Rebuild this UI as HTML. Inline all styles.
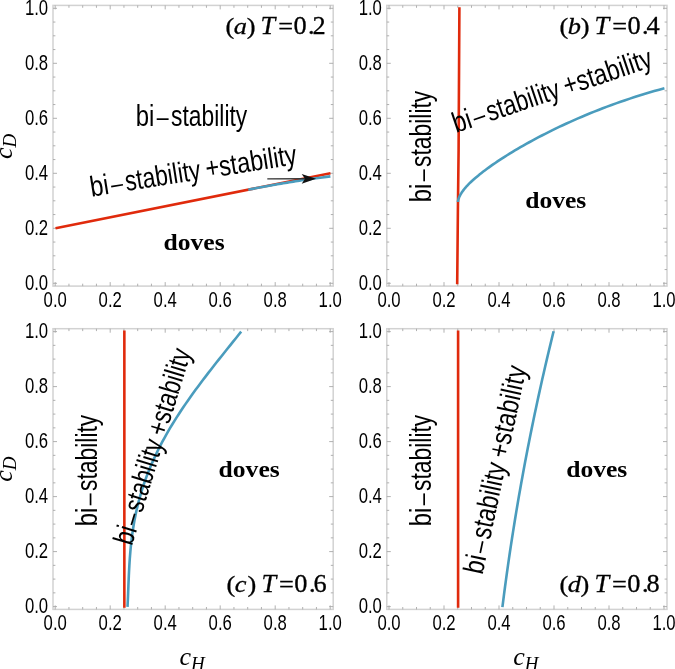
<!DOCTYPE html>
<html><head><meta charset="utf-8"><style>
html,body{margin:0;padding:0;background:#fff;width:675px;height:669px;overflow:hidden}
svg{display:block;will-change:transform}
</style></head><body>
<svg width="675" height="669" viewBox="0 0 675 669">
<rect width="675" height="669" fill="#fff"/>
<rect x="53.00" y="5.40" width="280.20" height="280.70" fill="none" stroke="#d2d2d2" stroke-width="1.5"/>
<path d="M55.20 286.10v-4.0M55.20 5.40v4.0M53.00 283.30h4.0M333.20 283.30h-4.0M68.95 286.10v-2.4M68.95 5.40v2.4M53.00 269.55h2.4M333.20 269.55h-2.4M82.70 286.10v-2.4M82.70 5.40v2.4M53.00 255.80h2.4M333.20 255.80h-2.4M96.45 286.10v-2.4M96.45 5.40v2.4M53.00 242.05h2.4M333.20 242.05h-2.4M110.20 286.10v-4.0M110.20 5.40v4.0M53.00 228.30h4.0M333.20 228.30h-4.0M123.95 286.10v-2.4M123.95 5.40v2.4M53.00 214.55h2.4M333.20 214.55h-2.4M137.70 286.10v-2.4M137.70 5.40v2.4M53.00 200.80h2.4M333.20 200.80h-2.4M151.45 286.10v-2.4M151.45 5.40v2.4M53.00 187.05h2.4M333.20 187.05h-2.4M165.20 286.10v-4.0M165.20 5.40v4.0M53.00 173.30h4.0M333.20 173.30h-4.0M178.95 286.10v-2.4M178.95 5.40v2.4M53.00 159.55h2.4M333.20 159.55h-2.4M192.70 286.10v-2.4M192.70 5.40v2.4M53.00 145.80h2.4M333.20 145.80h-2.4M206.45 286.10v-2.4M206.45 5.40v2.4M53.00 132.05h2.4M333.20 132.05h-2.4M220.20 286.10v-4.0M220.20 5.40v4.0M53.00 118.30h4.0M333.20 118.30h-4.0M233.95 286.10v-2.4M233.95 5.40v2.4M53.00 104.55h2.4M333.20 104.55h-2.4M247.70 286.10v-2.4M247.70 5.40v2.4M53.00 90.80h2.4M333.20 90.80h-2.4M261.45 286.10v-2.4M261.45 5.40v2.4M53.00 77.05h2.4M333.20 77.05h-2.4M275.20 286.10v-4.0M275.20 5.40v4.0M53.00 63.30h4.0M333.20 63.30h-4.0M288.95 286.10v-2.4M288.95 5.40v2.4M53.00 49.55h2.4M333.20 49.55h-2.4M302.70 286.10v-2.4M302.70 5.40v2.4M53.00 35.80h2.4M333.20 35.80h-2.4M316.45 286.10v-2.4M316.45 5.40v2.4M53.00 22.05h2.4M333.20 22.05h-2.4M330.20 286.10v-4.0M330.20 5.40v4.0M53.00 8.30h4.0M333.20 8.30h-4.0" stroke="#a8a8a8" stroke-width="0.9" fill="none"/>
<text transform="translate(48.10,289.70) scale(0.777,1)" text-anchor="end" style="font-family:'Liberation Sans',sans-serif;font-size:21.5px">0.0</text>
<text transform="translate(55.20,306.50) scale(0.777,1)" text-anchor="middle" style="font-family:'Liberation Sans',sans-serif;font-size:21.5px">0.0</text>
<text transform="translate(48.10,234.70) scale(0.777,1)" text-anchor="end" style="font-family:'Liberation Sans',sans-serif;font-size:21.5px">0.2</text>
<text transform="translate(110.20,306.50) scale(0.777,1)" text-anchor="middle" style="font-family:'Liberation Sans',sans-serif;font-size:21.5px">0.2</text>
<text transform="translate(48.10,179.70) scale(0.777,1)" text-anchor="end" style="font-family:'Liberation Sans',sans-serif;font-size:21.5px">0.4</text>
<text transform="translate(165.20,306.50) scale(0.777,1)" text-anchor="middle" style="font-family:'Liberation Sans',sans-serif;font-size:21.5px">0.4</text>
<text transform="translate(48.10,124.70) scale(0.777,1)" text-anchor="end" style="font-family:'Liberation Sans',sans-serif;font-size:21.5px">0.6</text>
<text transform="translate(220.20,306.50) scale(0.777,1)" text-anchor="middle" style="font-family:'Liberation Sans',sans-serif;font-size:21.5px">0.6</text>
<text transform="translate(48.10,69.70) scale(0.777,1)" text-anchor="end" style="font-family:'Liberation Sans',sans-serif;font-size:21.5px">0.8</text>
<text transform="translate(275.20,306.50) scale(0.777,1)" text-anchor="middle" style="font-family:'Liberation Sans',sans-serif;font-size:21.5px">0.8</text>
<text transform="translate(48.10,14.70) scale(0.777,1)" text-anchor="end" style="font-family:'Liberation Sans',sans-serif;font-size:21.5px">1.0</text>
<text transform="translate(330.20,306.50) scale(0.777,1)" text-anchor="middle" style="font-family:'Liberation Sans',sans-serif;font-size:21.5px">1.0</text>
<rect x="386.80" y="5.40" width="280.20" height="280.70" fill="none" stroke="#d2d2d2" stroke-width="1.5"/>
<path d="M389.00 286.10v-4.0M389.00 5.40v4.0M386.80 283.30h4.0M667.00 283.30h-4.0M402.75 286.10v-2.4M402.75 5.40v2.4M386.80 269.55h2.4M667.00 269.55h-2.4M416.50 286.10v-2.4M416.50 5.40v2.4M386.80 255.80h2.4M667.00 255.80h-2.4M430.25 286.10v-2.4M430.25 5.40v2.4M386.80 242.05h2.4M667.00 242.05h-2.4M444.00 286.10v-4.0M444.00 5.40v4.0M386.80 228.30h4.0M667.00 228.30h-4.0M457.75 286.10v-2.4M457.75 5.40v2.4M386.80 214.55h2.4M667.00 214.55h-2.4M471.50 286.10v-2.4M471.50 5.40v2.4M386.80 200.80h2.4M667.00 200.80h-2.4M485.25 286.10v-2.4M485.25 5.40v2.4M386.80 187.05h2.4M667.00 187.05h-2.4M499.00 286.10v-4.0M499.00 5.40v4.0M386.80 173.30h4.0M667.00 173.30h-4.0M512.75 286.10v-2.4M512.75 5.40v2.4M386.80 159.55h2.4M667.00 159.55h-2.4M526.50 286.10v-2.4M526.50 5.40v2.4M386.80 145.80h2.4M667.00 145.80h-2.4M540.25 286.10v-2.4M540.25 5.40v2.4M386.80 132.05h2.4M667.00 132.05h-2.4M554.00 286.10v-4.0M554.00 5.40v4.0M386.80 118.30h4.0M667.00 118.30h-4.0M567.75 286.10v-2.4M567.75 5.40v2.4M386.80 104.55h2.4M667.00 104.55h-2.4M581.50 286.10v-2.4M581.50 5.40v2.4M386.80 90.80h2.4M667.00 90.80h-2.4M595.25 286.10v-2.4M595.25 5.40v2.4M386.80 77.05h2.4M667.00 77.05h-2.4M609.00 286.10v-4.0M609.00 5.40v4.0M386.80 63.30h4.0M667.00 63.30h-4.0M622.75 286.10v-2.4M622.75 5.40v2.4M386.80 49.55h2.4M667.00 49.55h-2.4M636.50 286.10v-2.4M636.50 5.40v2.4M386.80 35.80h2.4M667.00 35.80h-2.4M650.25 286.10v-2.4M650.25 5.40v2.4M386.80 22.05h2.4M667.00 22.05h-2.4M664.00 286.10v-4.0M664.00 5.40v4.0M386.80 8.30h4.0M667.00 8.30h-4.0" stroke="#a8a8a8" stroke-width="0.9" fill="none"/>
<text transform="translate(381.90,289.70) scale(0.777,1)" text-anchor="end" style="font-family:'Liberation Sans',sans-serif;font-size:21.5px">0.0</text>
<text transform="translate(389.00,306.50) scale(0.777,1)" text-anchor="middle" style="font-family:'Liberation Sans',sans-serif;font-size:21.5px">0.0</text>
<text transform="translate(381.90,234.70) scale(0.777,1)" text-anchor="end" style="font-family:'Liberation Sans',sans-serif;font-size:21.5px">0.2</text>
<text transform="translate(444.00,306.50) scale(0.777,1)" text-anchor="middle" style="font-family:'Liberation Sans',sans-serif;font-size:21.5px">0.2</text>
<text transform="translate(381.90,179.70) scale(0.777,1)" text-anchor="end" style="font-family:'Liberation Sans',sans-serif;font-size:21.5px">0.4</text>
<text transform="translate(499.00,306.50) scale(0.777,1)" text-anchor="middle" style="font-family:'Liberation Sans',sans-serif;font-size:21.5px">0.4</text>
<text transform="translate(381.90,124.70) scale(0.777,1)" text-anchor="end" style="font-family:'Liberation Sans',sans-serif;font-size:21.5px">0.6</text>
<text transform="translate(554.00,306.50) scale(0.777,1)" text-anchor="middle" style="font-family:'Liberation Sans',sans-serif;font-size:21.5px">0.6</text>
<text transform="translate(381.90,69.70) scale(0.777,1)" text-anchor="end" style="font-family:'Liberation Sans',sans-serif;font-size:21.5px">0.8</text>
<text transform="translate(609.00,306.50) scale(0.777,1)" text-anchor="middle" style="font-family:'Liberation Sans',sans-serif;font-size:21.5px">0.8</text>
<text transform="translate(381.90,14.70) scale(0.777,1)" text-anchor="end" style="font-family:'Liberation Sans',sans-serif;font-size:21.5px">1.0</text>
<text transform="translate(664.00,306.50) scale(0.777,1)" text-anchor="middle" style="font-family:'Liberation Sans',sans-serif;font-size:21.5px">1.0</text>
<rect x="53.00" y="328.70" width="280.20" height="280.70" fill="none" stroke="#d2d2d2" stroke-width="1.5"/>
<path d="M55.20 609.40v-4.0M55.20 328.70v4.0M53.00 606.60h4.0M333.20 606.60h-4.0M68.95 609.40v-2.4M68.95 328.70v2.4M53.00 592.85h2.4M333.20 592.85h-2.4M82.70 609.40v-2.4M82.70 328.70v2.4M53.00 579.10h2.4M333.20 579.10h-2.4M96.45 609.40v-2.4M96.45 328.70v2.4M53.00 565.35h2.4M333.20 565.35h-2.4M110.20 609.40v-4.0M110.20 328.70v4.0M53.00 551.60h4.0M333.20 551.60h-4.0M123.95 609.40v-2.4M123.95 328.70v2.4M53.00 537.85h2.4M333.20 537.85h-2.4M137.70 609.40v-2.4M137.70 328.70v2.4M53.00 524.10h2.4M333.20 524.10h-2.4M151.45 609.40v-2.4M151.45 328.70v2.4M53.00 510.35h2.4M333.20 510.35h-2.4M165.20 609.40v-4.0M165.20 328.70v4.0M53.00 496.60h4.0M333.20 496.60h-4.0M178.95 609.40v-2.4M178.95 328.70v2.4M53.00 482.85h2.4M333.20 482.85h-2.4M192.70 609.40v-2.4M192.70 328.70v2.4M53.00 469.10h2.4M333.20 469.10h-2.4M206.45 609.40v-2.4M206.45 328.70v2.4M53.00 455.35h2.4M333.20 455.35h-2.4M220.20 609.40v-4.0M220.20 328.70v4.0M53.00 441.60h4.0M333.20 441.60h-4.0M233.95 609.40v-2.4M233.95 328.70v2.4M53.00 427.85h2.4M333.20 427.85h-2.4M247.70 609.40v-2.4M247.70 328.70v2.4M53.00 414.10h2.4M333.20 414.10h-2.4M261.45 609.40v-2.4M261.45 328.70v2.4M53.00 400.35h2.4M333.20 400.35h-2.4M275.20 609.40v-4.0M275.20 328.70v4.0M53.00 386.60h4.0M333.20 386.60h-4.0M288.95 609.40v-2.4M288.95 328.70v2.4M53.00 372.85h2.4M333.20 372.85h-2.4M302.70 609.40v-2.4M302.70 328.70v2.4M53.00 359.10h2.4M333.20 359.10h-2.4M316.45 609.40v-2.4M316.45 328.70v2.4M53.00 345.35h2.4M333.20 345.35h-2.4M330.20 609.40v-4.0M330.20 328.70v4.0M53.00 331.60h4.0M333.20 331.60h-4.0" stroke="#a8a8a8" stroke-width="0.9" fill="none"/>
<text transform="translate(48.10,613.00) scale(0.777,1)" text-anchor="end" style="font-family:'Liberation Sans',sans-serif;font-size:21.5px">0.0</text>
<text transform="translate(55.20,629.80) scale(0.777,1)" text-anchor="middle" style="font-family:'Liberation Sans',sans-serif;font-size:21.5px">0.0</text>
<text transform="translate(48.10,558.00) scale(0.777,1)" text-anchor="end" style="font-family:'Liberation Sans',sans-serif;font-size:21.5px">0.2</text>
<text transform="translate(110.20,629.80) scale(0.777,1)" text-anchor="middle" style="font-family:'Liberation Sans',sans-serif;font-size:21.5px">0.2</text>
<text transform="translate(48.10,503.00) scale(0.777,1)" text-anchor="end" style="font-family:'Liberation Sans',sans-serif;font-size:21.5px">0.4</text>
<text transform="translate(165.20,629.80) scale(0.777,1)" text-anchor="middle" style="font-family:'Liberation Sans',sans-serif;font-size:21.5px">0.4</text>
<text transform="translate(48.10,448.00) scale(0.777,1)" text-anchor="end" style="font-family:'Liberation Sans',sans-serif;font-size:21.5px">0.6</text>
<text transform="translate(220.20,629.80) scale(0.777,1)" text-anchor="middle" style="font-family:'Liberation Sans',sans-serif;font-size:21.5px">0.6</text>
<text transform="translate(48.10,393.00) scale(0.777,1)" text-anchor="end" style="font-family:'Liberation Sans',sans-serif;font-size:21.5px">0.8</text>
<text transform="translate(275.20,629.80) scale(0.777,1)" text-anchor="middle" style="font-family:'Liberation Sans',sans-serif;font-size:21.5px">0.8</text>
<text transform="translate(48.10,338.00) scale(0.777,1)" text-anchor="end" style="font-family:'Liberation Sans',sans-serif;font-size:21.5px">1.0</text>
<text transform="translate(330.20,629.80) scale(0.777,1)" text-anchor="middle" style="font-family:'Liberation Sans',sans-serif;font-size:21.5px">1.0</text>
<rect x="386.80" y="328.70" width="280.20" height="280.70" fill="none" stroke="#d2d2d2" stroke-width="1.5"/>
<path d="M389.00 609.40v-4.0M389.00 328.70v4.0M386.80 606.60h4.0M667.00 606.60h-4.0M402.75 609.40v-2.4M402.75 328.70v2.4M386.80 592.85h2.4M667.00 592.85h-2.4M416.50 609.40v-2.4M416.50 328.70v2.4M386.80 579.10h2.4M667.00 579.10h-2.4M430.25 609.40v-2.4M430.25 328.70v2.4M386.80 565.35h2.4M667.00 565.35h-2.4M444.00 609.40v-4.0M444.00 328.70v4.0M386.80 551.60h4.0M667.00 551.60h-4.0M457.75 609.40v-2.4M457.75 328.70v2.4M386.80 537.85h2.4M667.00 537.85h-2.4M471.50 609.40v-2.4M471.50 328.70v2.4M386.80 524.10h2.4M667.00 524.10h-2.4M485.25 609.40v-2.4M485.25 328.70v2.4M386.80 510.35h2.4M667.00 510.35h-2.4M499.00 609.40v-4.0M499.00 328.70v4.0M386.80 496.60h4.0M667.00 496.60h-4.0M512.75 609.40v-2.4M512.75 328.70v2.4M386.80 482.85h2.4M667.00 482.85h-2.4M526.50 609.40v-2.4M526.50 328.70v2.4M386.80 469.10h2.4M667.00 469.10h-2.4M540.25 609.40v-2.4M540.25 328.70v2.4M386.80 455.35h2.4M667.00 455.35h-2.4M554.00 609.40v-4.0M554.00 328.70v4.0M386.80 441.60h4.0M667.00 441.60h-4.0M567.75 609.40v-2.4M567.75 328.70v2.4M386.80 427.85h2.4M667.00 427.85h-2.4M581.50 609.40v-2.4M581.50 328.70v2.4M386.80 414.10h2.4M667.00 414.10h-2.4M595.25 609.40v-2.4M595.25 328.70v2.4M386.80 400.35h2.4M667.00 400.35h-2.4M609.00 609.40v-4.0M609.00 328.70v4.0M386.80 386.60h4.0M667.00 386.60h-4.0M622.75 609.40v-2.4M622.75 328.70v2.4M386.80 372.85h2.4M667.00 372.85h-2.4M636.50 609.40v-2.4M636.50 328.70v2.4M386.80 359.10h2.4M667.00 359.10h-2.4M650.25 609.40v-2.4M650.25 328.70v2.4M386.80 345.35h2.4M667.00 345.35h-2.4M664.00 609.40v-4.0M664.00 328.70v4.0M386.80 331.60h4.0M667.00 331.60h-4.0" stroke="#a8a8a8" stroke-width="0.9" fill="none"/>
<text transform="translate(381.90,613.00) scale(0.777,1)" text-anchor="end" style="font-family:'Liberation Sans',sans-serif;font-size:21.5px">0.0</text>
<text transform="translate(389.00,629.80) scale(0.777,1)" text-anchor="middle" style="font-family:'Liberation Sans',sans-serif;font-size:21.5px">0.0</text>
<text transform="translate(381.90,558.00) scale(0.777,1)" text-anchor="end" style="font-family:'Liberation Sans',sans-serif;font-size:21.5px">0.2</text>
<text transform="translate(444.00,629.80) scale(0.777,1)" text-anchor="middle" style="font-family:'Liberation Sans',sans-serif;font-size:21.5px">0.2</text>
<text transform="translate(381.90,503.00) scale(0.777,1)" text-anchor="end" style="font-family:'Liberation Sans',sans-serif;font-size:21.5px">0.4</text>
<text transform="translate(499.00,629.80) scale(0.777,1)" text-anchor="middle" style="font-family:'Liberation Sans',sans-serif;font-size:21.5px">0.4</text>
<text transform="translate(381.90,448.00) scale(0.777,1)" text-anchor="end" style="font-family:'Liberation Sans',sans-serif;font-size:21.5px">0.6</text>
<text transform="translate(554.00,629.80) scale(0.777,1)" text-anchor="middle" style="font-family:'Liberation Sans',sans-serif;font-size:21.5px">0.6</text>
<text transform="translate(381.90,393.00) scale(0.777,1)" text-anchor="end" style="font-family:'Liberation Sans',sans-serif;font-size:21.5px">0.8</text>
<text transform="translate(609.00,629.80) scale(0.777,1)" text-anchor="middle" style="font-family:'Liberation Sans',sans-serif;font-size:21.5px">0.8</text>
<text transform="translate(381.90,338.00) scale(0.777,1)" text-anchor="end" style="font-family:'Liberation Sans',sans-serif;font-size:21.5px">1.0</text>
<text transform="translate(664.00,629.80) scale(0.777,1)" text-anchor="middle" style="font-family:'Liberation Sans',sans-serif;font-size:21.5px">1.0</text>
<path d="M55.50 228.20 L330.50 173.20" stroke="#e02a0c" stroke-width="2.6" fill="none" stroke-linejoin="round"/>
<path d="M248.30 189.70 L250.35 189.29 L252.41 188.89 L254.46 188.49 L256.51 188.09 L258.56 187.70 L260.62 187.31 L262.67 186.92 L264.72 186.54 L266.77 186.16 L268.82 185.79 L270.88 185.42 L272.93 185.05 L274.98 184.69 L277.04 184.33 L279.09 183.98 L281.14 183.63 L283.19 183.28 L285.25 182.94 L287.30 182.60 L289.35 182.26 L291.40 181.93 L293.45 181.60 L295.51 181.28 L297.56 180.96 L299.61 180.65 L301.66 180.33 L303.72 180.03 L305.77 179.72 L307.82 179.42 L309.88 179.13 L311.93 178.83 L313.98 178.54 L316.03 178.26 L318.08 177.98 L320.14 177.70 L322.19 177.43 L324.24 177.16 L326.29 176.89 L328.35 176.63 L330.40 176.37" stroke="#4a9cbd" stroke-width="2.6" fill="none" stroke-linejoin="round"/>
<path d="M267.3 178.9 L305 178.7" stroke="#333" stroke-width="1.4" fill="none"/>
<path d="M316.1 178.7 L301.7 174.1 L305.0 178.7 L301.7 183.7 Z" fill="#111"/>
<path d="M459.40 7.30 L458.60 150.00 L457.90 210.00 L457.20 284.20" stroke="#e02a0c" stroke-width="2.6" fill="none" stroke-linejoin="round"/>
<path d="M458.00 202.00 L458.03 201.33 L458.13 200.60 L458.29 199.83 L458.52 199.02 L458.81 198.16 L459.16 197.26 L459.58 196.32 L460.06 195.36 L460.61 194.36 L461.23 193.33 L461.90 192.28 L462.64 191.21 L463.45 190.12 L464.32 189.01 L465.26 187.88 L466.26 186.73 L467.32 185.57 L468.45 184.39 L469.64 183.20 L470.90 181.98 L472.22 180.75 L473.61 179.50 L475.06 178.23 L476.58 176.94 L478.16 175.63 L479.80 174.30 L481.51 172.95 L483.28 171.58 L485.12 170.19 L487.02 168.78 L488.99 167.35 L491.02 165.90 L493.12 164.44 L495.28 162.95 L497.51 161.45 L499.80 159.92 L502.15 158.39 L504.57 156.83 L507.05 155.26 L509.60 153.68 L512.21 152.08 L514.89 150.47 L517.63 148.84 L520.44 147.21 L523.31 145.56 L526.24 143.90 L529.24 142.24 L532.30 140.56 L535.43 138.88 L538.62 137.19 L541.88 135.49 L545.20 133.79 L548.59 132.08 L552.04 130.37 L555.56 128.66 L559.14 126.95 L562.78 125.24 L566.49 123.52 L570.26 121.81 L574.10 120.10 L578.00 118.40 L581.97 116.70 L586.00 115.00 L590.10 113.31 L594.26 111.63 L598.48 109.96 L602.77 108.30 L607.12 106.65 L611.54 105.02 L616.02 103.40 L620.57 101.79 L625.18 100.20 L629.86 98.63 L634.60 97.07 L639.41 95.54 L644.28 94.03 L649.21 92.54 L654.21 91.07 L659.27 89.63 L664.40 88.22" stroke="#4a9cbd" stroke-width="2.6" fill="none" stroke-linejoin="round"/>
<path d="M124.35 330.40 L124.35 607.80" stroke="#e02a0c" stroke-width="2.6" fill="none" stroke-linejoin="round"/>
<path d="M127.50 606.90 L127.67 603.46 L127.83 600.02 L127.98 596.58 L128.12 593.13 L128.25 589.69 L128.39 586.25 L128.52 582.81 L128.67 579.37 L128.82 575.93 L128.98 572.49 L129.16 569.05 L129.35 565.61 L129.56 562.16 L129.79 558.72 L130.05 555.28 L130.33 551.84 L130.64 548.40 L130.98 544.96 L131.36 541.52 L131.77 538.07 L132.21 534.63 L132.69 531.19 L133.22 527.75 L133.78 524.31 L134.39 520.87 L135.04 517.43 L135.74 513.99 L136.48 510.54 L137.27 507.10 L138.11 503.66 L139.00 500.22 L139.95 496.78 L140.94 493.34 L141.99 489.90 L143.09 486.46 L144.24 483.01 L145.45 479.57 L146.71 476.13 L148.03 472.69 L149.40 469.25 L150.83 465.81 L152.32 462.37 L153.86 458.93 L155.45 455.48 L157.10 452.04 L158.80 448.60 L160.56 445.16 L162.37 441.72 L164.24 438.28 L166.15 434.84 L168.12 431.40 L170.14 427.95 L172.21 424.51 L174.33 421.07 L176.49 417.63 L178.71 414.19 L180.96 410.75 L183.27 407.31 L185.61 403.87 L188.00 400.42 L190.42 396.98 L192.88 393.54 L195.38 390.10 L197.92 386.66 L200.48 383.22 L203.07 379.78 L205.70 376.34 L208.34 372.89 L211.02 369.45 L213.71 366.01 L216.42 362.57 L219.14 359.13 L221.88 355.69 L224.63 352.25 L227.39 348.81 L230.15 345.37 L232.91 341.92 L235.68 338.48 L238.43 335.04 L241.18 331.60" stroke="#4a9cbd" stroke-width="2.6" fill="none" stroke-linejoin="round"/>
<path d="M458.10 330.40 L458.10 607.80" stroke="#e02a0c" stroke-width="2.6" fill="none" stroke-linejoin="round"/>
<path d="M502.40 607.20 L503.27 600.30 L504.16 593.41 L505.07 586.51 L506.00 579.61 L506.95 572.71 L507.92 565.82 L508.92 558.92 L509.93 552.02 L510.97 545.12 L512.03 538.23 L513.11 531.33 L514.21 524.43 L515.33 517.53 L516.47 510.64 L517.64 503.74 L518.82 496.84 L520.03 489.94 L521.25 483.05 L522.50 476.15 L523.77 469.25 L525.06 462.35 L526.37 455.46 L527.71 448.56 L529.06 441.66 L530.44 434.76 L531.83 427.87 L533.25 420.97 L534.69 414.07 L536.15 407.17 L537.63 400.28 L539.13 393.38 L540.66 386.48 L542.20 379.58 L543.77 372.69 L545.35 365.79 L546.96 358.89 L548.59 351.99 L550.24 345.10 L551.91 338.20 L553.60 331.30" stroke="#4a9cbd" stroke-width="2.6" fill="none" stroke-linejoin="round"/>
<g transform="translate(137.20,126.00)" style="font-family:'Liberation Sans',sans-serif;font-size:28.8px"><text transform="translate(-1.50,0) scale(0.8310,1)">bi</text><rect x="19.50" y="-7.7" width="11.90" height="1.7" fill="#000"/><text transform="translate(33.90,0) scale(0.7930,1)">stability</text></g>
<g transform="translate(93.00,196.40) rotate(-9)" style="font-family:'Liberation Sans',sans-serif;font-size:28.8px"><text transform="translate(-1.50,0) scale(0.8310,1)">bi</text><rect x="19.50" y="-7.7" width="11.90" height="1.7" fill="#000"/><text transform="translate(33.90,0) scale(0.7930,1)">stability</text><text transform="translate(115.30,0) scale(0.8168,1)">+stability</text></g>
<g transform="translate(431.00,200.80) rotate(-90)" style="font-family:'Liberation Sans',sans-serif;font-size:28.8px"><text transform="translate(-1.50,0) scale(0.8310,1)">bi</text><rect x="19.50" y="-7.7" width="11.90" height="1.7" fill="#000"/><text transform="translate(33.90,0) scale(0.7930,1)">stability</text></g>
<g transform="translate(457.50,132.40) rotate(-18.6)" style="font-family:'Liberation Sans',sans-serif;font-size:28.8px"><text transform="translate(-1.50,0) scale(0.8310,1)">bi</text><rect x="19.50" y="-7.7" width="11.90" height="1.7" fill="#000"/><text transform="translate(33.90,0) scale(0.7930,1)">stability</text><text transform="translate(115.30,0) scale(0.8168,1)">+stability</text></g>
<g transform="translate(97.40,524.80) rotate(-90)" style="font-family:'Liberation Sans',sans-serif;font-size:28.8px"><text transform="translate(-1.50,0) scale(0.8310,1)">bi</text><rect x="19.50" y="-7.7" width="11.90" height="1.7" fill="#000"/><text transform="translate(33.90,0) scale(0.7930,1)">stability</text></g>
<g transform="translate(132.30,545.10) rotate(-73)" style="font-family:'Liberation Sans',sans-serif;font-size:28.8px"><text transform="translate(-1.46,0) scale(0.8102,1)">bi</text><rect x="19.01" y="-7.7" width="11.60" height="1.7" fill="#000"/><text transform="translate(33.05,0) scale(0.7732,1)">stability</text><text transform="translate(112.42,0) scale(0.7964,1)">+stability</text></g>
<g transform="translate(431.00,524.80) rotate(-90)" style="font-family:'Liberation Sans',sans-serif;font-size:28.8px"><text transform="translate(-1.50,0) scale(0.8310,1)">bi</text><rect x="19.50" y="-7.7" width="11.90" height="1.7" fill="#000"/><text transform="translate(33.90,0) scale(0.7930,1)">stability</text></g>
<g transform="translate(482.80,573.80) rotate(-78)" style="font-family:'Liberation Sans',sans-serif;font-size:28.8px"><text transform="translate(-1.52,0) scale(0.8435,1)">bi</text><rect x="19.79" y="-7.7" width="12.08" height="1.7" fill="#000"/><text transform="translate(34.41,0) scale(0.8049,1)">stability</text><text transform="translate(117.03,0) scale(0.8290,1)">+stability</text></g>
<text transform="translate(163.50,249.70) scale(1.08,1)" style="font-family:'Liberation Serif',serif;font-weight:bold;font-size:23.7px">doves</text>
<text transform="translate(525.20,208.30) scale(1.08,1)" style="font-family:'Liberation Serif',serif;font-weight:bold;font-size:23.7px">doves</text>
<text transform="translate(218.60,476.60) scale(1.08,1)" style="font-family:'Liberation Serif',serif;font-weight:bold;font-size:23.7px">doves</text>
<text transform="translate(566.20,476.60) scale(1.08,1)" style="font-family:'Liberation Serif',serif;font-weight:bold;font-size:23.7px">doves</text>
<text transform="translate(225.55,33.50) scale(1.12,1)" stroke="#000" stroke-width="0.3" style="font-family:'Liberation Serif',serif;font-size:23.5px;">(</text>
<text transform="translate(233.75,33.50) scale(1.1,1)" stroke="#000" stroke-width="0.3" style="font-family:'Liberation Serif',serif;font-size:24px;font-style:italic">a</text>
<text transform="translate(246.65,33.50) scale(1.12,1)" stroke="#000" stroke-width="0.3" style="font-family:'Liberation Serif',serif;font-size:23.5px;">)</text>
<text transform="translate(260.45,33.50) scale(1.053,1)" stroke="#000" stroke-width="0.3" style="font-family:'Liberation Serif',serif;font-size:25px;font-style:italic">T</text>
<text transform="translate(278.15,33.50) scale(1.12,1)" stroke="#000" stroke-width="0.3" style="font-family:'Liberation Serif',serif;font-size:23.5px;">=</text>
<text transform="translate(293.40,33.50) scale(1.053,1)" stroke="#000" stroke-width="0.3" style="font-family:'Liberation Serif',serif;font-size:25px;">0</text>
<text transform="translate(307.95,33.50) scale(1.053,1)" stroke="#000" stroke-width="0.3" style="font-family:'Liberation Serif',serif;font-size:25px;">.</text>
<text transform="translate(312.55,33.50) scale(1.053,1)" stroke="#000" stroke-width="0.3" style="font-family:'Liberation Serif',serif;font-size:25px;">2</text>
<text transform="translate(559.55,33.50) scale(1.12,1)" stroke="#000" stroke-width="0.3" style="font-family:'Liberation Serif',serif;font-size:23.5px;">(</text>
<text transform="translate(567.75,33.50) scale(1.1,1)" stroke="#000" stroke-width="0.3" style="font-family:'Liberation Serif',serif;font-size:24px;font-style:italic">b</text>
<text transform="translate(580.65,33.50) scale(1.12,1)" stroke="#000" stroke-width="0.3" style="font-family:'Liberation Serif',serif;font-size:23.5px;">)</text>
<text transform="translate(594.45,33.50) scale(1.053,1)" stroke="#000" stroke-width="0.3" style="font-family:'Liberation Serif',serif;font-size:25px;font-style:italic">T</text>
<text transform="translate(612.15,33.50) scale(1.12,1)" stroke="#000" stroke-width="0.3" style="font-family:'Liberation Serif',serif;font-size:23.5px;">=</text>
<text transform="translate(627.40,33.50) scale(1.053,1)" stroke="#000" stroke-width="0.3" style="font-family:'Liberation Serif',serif;font-size:25px;">0</text>
<text transform="translate(641.95,33.50) scale(1.053,1)" stroke="#000" stroke-width="0.3" style="font-family:'Liberation Serif',serif;font-size:25px;">.</text>
<text transform="translate(646.55,33.50) scale(1.053,1)" stroke="#000" stroke-width="0.3" style="font-family:'Liberation Serif',serif;font-size:25px;">4</text>
<text transform="translate(226.50,591.50) scale(1.12,1)" stroke="#000" stroke-width="0.3" style="font-family:'Liberation Serif',serif;font-size:23.5px;">(</text>
<text transform="translate(234.70,591.50) scale(1.1,1)" stroke="#000" stroke-width="0.3" style="font-family:'Liberation Serif',serif;font-size:24px;font-style:italic">c</text>
<text transform="translate(247.60,591.50) scale(1.12,1)" stroke="#000" stroke-width="0.3" style="font-family:'Liberation Serif',serif;font-size:23.5px;">)</text>
<text transform="translate(261.40,591.50) scale(1.053,1)" stroke="#000" stroke-width="0.3" style="font-family:'Liberation Serif',serif;font-size:25px;font-style:italic">T</text>
<text transform="translate(279.10,591.50) scale(1.12,1)" stroke="#000" stroke-width="0.3" style="font-family:'Liberation Serif',serif;font-size:23.5px;">=</text>
<text transform="translate(294.35,591.50) scale(1.053,1)" stroke="#000" stroke-width="0.3" style="font-family:'Liberation Serif',serif;font-size:25px;">0</text>
<text transform="translate(308.90,591.50) scale(1.053,1)" stroke="#000" stroke-width="0.3" style="font-family:'Liberation Serif',serif;font-size:25px;">.</text>
<text transform="translate(313.50,591.50) scale(1.053,1)" stroke="#000" stroke-width="0.3" style="font-family:'Liberation Serif',serif;font-size:25px;">6</text>
<text transform="translate(559.50,591.50) scale(1.12,1)" stroke="#000" stroke-width="0.3" style="font-family:'Liberation Serif',serif;font-size:23.5px;">(</text>
<text transform="translate(567.70,591.50) scale(1.1,1)" stroke="#000" stroke-width="0.3" style="font-family:'Liberation Serif',serif;font-size:24px;font-style:italic">d</text>
<text transform="translate(580.60,591.50) scale(1.12,1)" stroke="#000" stroke-width="0.3" style="font-family:'Liberation Serif',serif;font-size:23.5px;">)</text>
<text transform="translate(594.40,591.50) scale(1.053,1)" stroke="#000" stroke-width="0.3" style="font-family:'Liberation Serif',serif;font-size:25px;font-style:italic">T</text>
<text transform="translate(612.10,591.50) scale(1.12,1)" stroke="#000" stroke-width="0.3" style="font-family:'Liberation Serif',serif;font-size:23.5px;">=</text>
<text transform="translate(627.35,591.50) scale(1.053,1)" stroke="#000" stroke-width="0.3" style="font-family:'Liberation Serif',serif;font-size:25px;">0</text>
<text transform="translate(641.90,591.50) scale(1.053,1)" stroke="#000" stroke-width="0.3" style="font-family:'Liberation Serif',serif;font-size:25px;">.</text>
<text transform="translate(646.50,591.50) scale(1.053,1)" stroke="#000" stroke-width="0.3" style="font-family:'Liberation Serif',serif;font-size:25px;">8</text>
<text transform="translate(11.60,159.00) rotate(-90)" style="font-family:'Liberation Serif',serif;font-style:italic;font-size:26px">c<tspan dy="4" style="font-size:19px">D</tspan></text>
<text transform="translate(11.60,481.80) rotate(-90)" style="font-family:'Liberation Serif',serif;font-style:italic;font-size:26px">c<tspan dy="4" style="font-size:19px">D</tspan></text>
<text x="179.50" y="665.00" style="font-family:'Liberation Serif',serif;font-style:italic;font-size:26px">c<tspan dy="5" style="font-size:19px">H</tspan></text>
<text x="513.30" y="665.00" style="font-family:'Liberation Serif',serif;font-style:italic;font-size:26px">c<tspan dy="5" style="font-size:19px">H</tspan></text>
</svg></body></html>
